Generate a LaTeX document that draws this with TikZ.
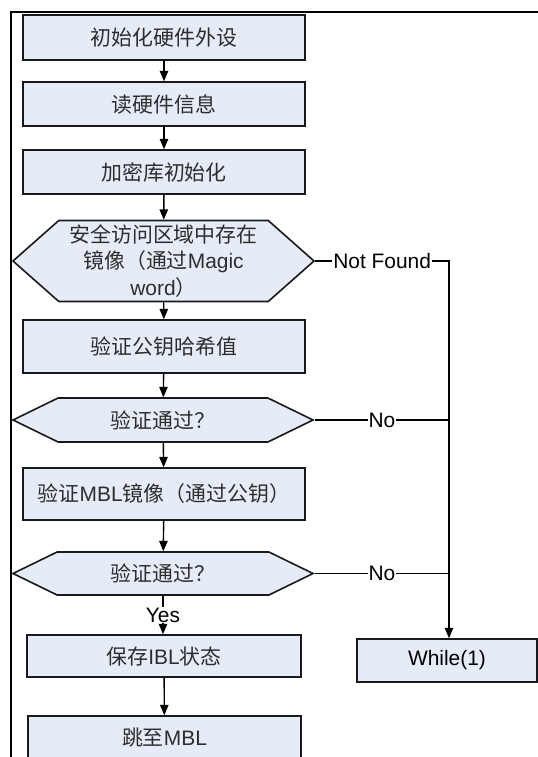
\documentclass[tikz,border=0pt]{standalone}
\usepackage{fontspec}
\setmainfont{Liberation Sans}
\newfontfamily\cjk{Noto Sans CJK SC}
\usetikzlibrary{arrows,positioning,shapes.symbols}
\definecolor{boxfill}{RGB}{230,236,247}
\definecolor{boxtext}{RGB}{45,45,45}
\tikzset{
        >=triangle 45,
        stepbox/.style = {draw=black!90, line width=1.6bp, fill=boxfill, text=boxtext, inner sep=0pt, minimum width=282bp, font=\fontsize{21}{27}\selectfont},
        decide/.style = {signal, signal to=west and east, draw=black!90, line width=1.6bp, fill=boxfill, text=boxtext, inner sep=0pt, minimum width=301bp, align=center, font=\fontsize{21}{27}\selectfont},
        flow/.style = {line width=1.4bp},
        lbl/.style = {fill=white, inner sep=1bp, font=\fontsize{21}{24}\selectfont}
}

\begin{document}
\begin{tikzpicture}[x=1bp, y=-1bp]

        \useasboundingbox (0,0) rectangle (538,757);

        % Frame
        \draw [line width=2bp] (11,757) |- (538,12);

        % Main column
        \node [stepbox, minimum height=45bp] (init) at (164,37.5) {{\cjk 初始化硬件外设}};
        \node [stepbox, minimum height=44bp] (rdhw) at (164,104) {{\cjk 读硬件信息}};
        \node [stepbox, minimum height=44bp] (crypt) at (164,172) {{\cjk 加密库初始化}};
        \node [decide, signal pointer angle=83, minimum height=81bp] (find) at (163.5,261) {{\cjk 安全访问区域中存在}\\{\cjk 镜像（通过}Magic\\word{\cjk ）}};
        \node [stepbox, minimum height=53bp] (hash) at (164,346.5) {{\cjk 验证公钥哈希值}};
        \node [decide, signal pointer angle=52, minimum height=44bp, minimum width=300bp] (chk1) at (163,420) {{\cjk 验证通过？}};
        \node [stepbox, minimum height=52bp] (mbl) at (164,494) {{\cjk 验证}MBL{\cjk 镜像（通过公钥）}};
        \node [decide, signal pointer angle=52, minimum height=43bp, minimum width=300bp] (chk2) at (163,573.5) {{\cjk 验证通过？}};
        \node [stepbox, minimum width=274bp, minimum height=42bp] (save) at (164,656) {{\cjk 保存}IBL{\cjk 状态}};
        \node [stepbox, minimum width=273bp, minimum height=44bp] (jump) at (164.5,738) {{\cjk 跳至}MBL};

        % Halt box
        \node [stepbox, minimum width=180bp, minimum height=43bp, text=black] (halt) at (447,660.5) {While(1)};

        % Main flow
        \draw [flow,->] (init) -- (rdhw);
        \draw [flow,->] (rdhw) -- (crypt);
        \draw [flow,->] (crypt) -- (find);
        \draw [flow,->] (find) -- (hash);
        \draw [flow,->] (hash) -- (chk1);
        \draw [flow,->] (chk1) -- (mbl);
        \draw [flow,->] (mbl) -- (chk2);
        \draw [flow,->] (chk2.south) -- node [lbl] {Yes} (save.north -| chk2.south);
        \draw [flow,->] (save) -- (jump);

        % Failure branches
        \coordinate (rail) at (449,261);
        \draw [flow,->] (find.east) -- node [lbl] {Not Found} (rail) -- (rail |- halt.north);
        \draw [flow] (chk1.east) -- node [lbl] {No} (chk1.east -| rail);
        \draw [flow] (chk2.east) -- node [lbl] {No} (chk2.east -| rail);

\end{tikzpicture}
\end{document}
